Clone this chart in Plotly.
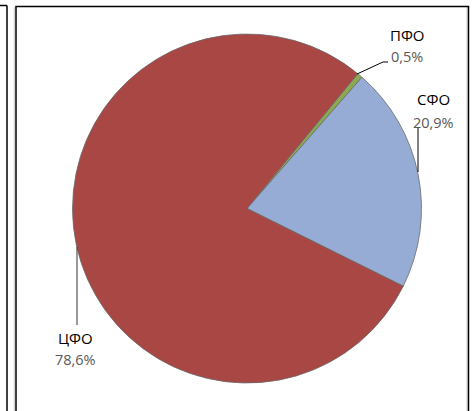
import plotly.graph_objects as go

W, H = 474, 411

regions = ["ПФО", "СФО", "ЦФО"]
shares = [0.5, 20.9, 78.6]
share_labels = ["0,5%", "20,9%", "78,6%"]
colors = ["#8BA94F", "#96ACD5", "#A94744"]


def px(x):
    return x / W


def py(y):
    return 1 - y / H


fig = go.Figure(go.Pie(
    labels=regions,
    values=shares,
    sort=False,
    direction="clockwise",
    rotation=39.4,
    textinfo="none",
    hoverinfo="label+percent",
    marker=dict(colors=colors, line=dict(color="#6A6A6A", width=0.8)),
    domain=dict(x=[px(72), px(422)], y=[py(383), py(34)]),
    showlegend=False,
))

shapes = [
    # left neighbouring frame
    dict(type="line", x0=px(0), x1=px(7), y0=py(5.5), y1=py(5.5), line=dict(color="black", width=1.5)),
    dict(type="line", x0=px(7), x1=px(7), y0=py(5.5), y1=py(415), line=dict(color="black", width=1.5)),
    # chart frame
    dict(type="line", x0=px(14.3), x1=px(14.3), y0=py(7), y1=py(415), line=dict(color="#C8C8C8", width=1)),
    dict(type="line", x0=px(467), x1=px(467), y0=py(7), y1=py(415), line=dict(color="#C8C8C8", width=1)),
    dict(type="rect", x0=px(16), x1=px(468.5), y0=py(6.5), y1=py(420), line=dict(color="black", width=1.5)),
    # leader lines
    dict(type="path", path=f"M {px(357)},{py(74)} L {px(383)},{py(62)} L {px(388)},{py(62)}",
         line=dict(color="black", width=1)),
    dict(type="line", x0=px(418), x1=px(418), y0=py(128), y1=py(172), line=dict(color="black", width=1)),
    dict(type="line", x0=px(77), x1=px(77), y0=py(247), y1=py(325), line=dict(color="#333333", width=1)),
]
for s in shapes:
    s["xref"] = "paper"
    s["yref"] = "paper"

label_pos = [(407, 35, 57), (433, 99, 122), (75, 338, 359)]
annotations = []
for name, pct, (x, y1, y2) in zip(regions, share_labels, label_pos):
    annotations.append(dict(x=px(x), y=py(y1), text=name, showarrow=False, xref="paper", yref="paper",
                            xanchor="center", yanchor="middle",
                            font=dict(family="Open Sans", size=15, color="black")))
    annotations.append(dict(x=px(x), y=py(y2), text=pct, showarrow=False, xref="paper", yref="paper",
                            xanchor="center", yanchor="middle",
                            font=dict(family="Open Sans", size=14.5, color="#595959")))

fig.update_layout(
    width=W, height=H,
    margin=dict(l=0, r=0, t=0, b=0),
    paper_bgcolor="white",
    plot_bgcolor="white",
    shapes=shapes,
    annotations=annotations,
)

fig.write_html(
    "out.html",
    config={"displayModeBar": False},
    post_script="document.body.style.margin='0';document.body.style.overflow='hidden';",
)
